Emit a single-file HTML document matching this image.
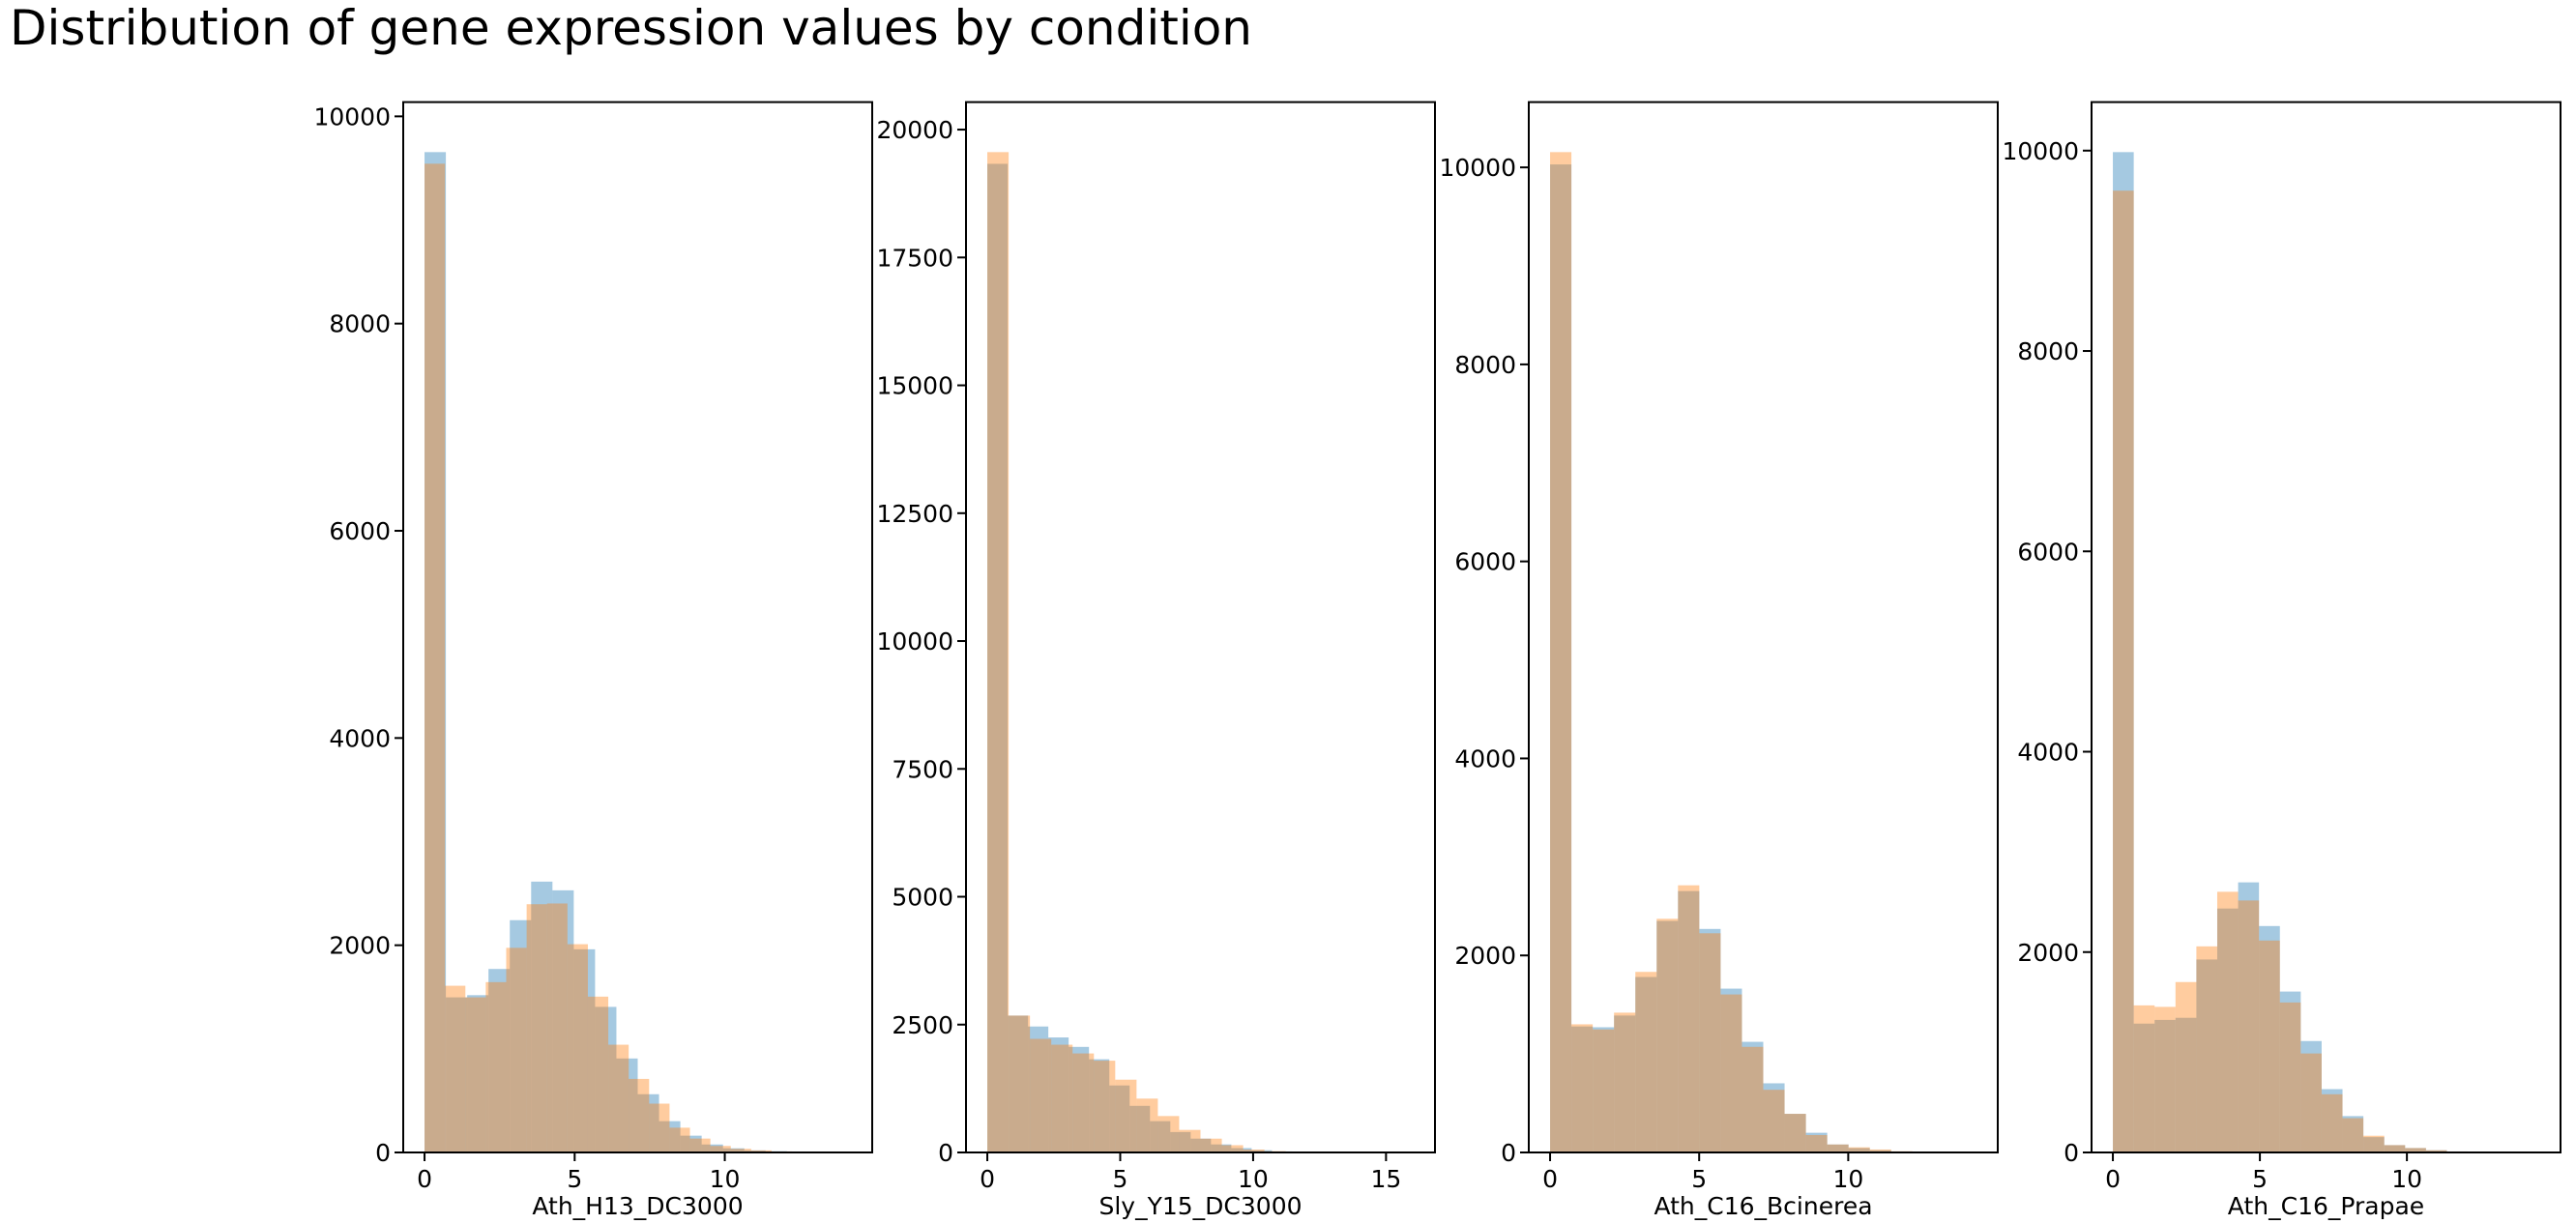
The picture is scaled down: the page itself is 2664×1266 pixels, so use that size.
<!DOCTYPE html>
<html><head><meta charset="utf-8"><style>
html,body{margin:0;padding:0;background:#fff;}
svg{display:block;font-family:"DejaVu Sans","Liberation Sans",sans-serif;}
</style></head><body>
<svg id="chart" width="2664" height="1266" viewBox="0 0 2664 1266" xmlns="http://www.w3.org/2000/svg">
<rect width="2664" height="1266" fill="#fff"/>
<text x="10" y="46" font-size="50" textLength="1285" lengthAdjust="spacingAndGlyphs">Distribution of gene expression values by condition</text>
</svg>
<script>
const conditions = ["Ath_H13_DC3000","Sly_Y15_DC3000","Ath_C16_Bcinerea","Ath_C16_Prapae"];
const blueCounts1 = [9655,1497,1518,1771,2242,2614,2530,1961,1405,907,562,302,162,77,40,20,12,5,2,1];
const orangeCounts1 = [9543,1609,1497,1644,1975,2396,2403,2010,1504,1040,710,471,239,134,63,35,20,10,4,2];
const blueCounts2 = [19331,2676,2463,2249,2064,1822,1310,911,612,399,270,157,85,43,20,8,4,2,1,1];
const orangeCounts2 = [19560,2676,2221,2107,1936,1794,1423,1053,712,441,270,142,57,25,10,5,2,1,1,1];
const blueCounts3 = [10030,1279,1271,1390,1781,2350,2653,2269,1663,1123,702,392,200,81,44,22,10,4,2,1];
const orangeCounts3 = [10155,1301,1249,1419,1833,2372,2712,2225,1604,1072,636,392,177,81,52,30,12,5,2,1];
const blueCounts4 = [9985,1286,1323,1344,1926,2435,2696,2260,1606,1112,632,363,153,73,44,22,10,5,2,1];
const orangeCounts4 = [9600,1468,1453,1701,2057,2602,2515,2115,1497,988,581,342,167,73,44,22,10,5,2,1];
const blueMax = [14.2,15.3,14.3,14.2];
const orangeMax = [13.6,16.04,14.3,14.2];
const xRangeMax = [14.2,16.04,14.3,14.5];
const yTicks1 = [0,2000,4000,6000,8000,10000];
const yTicks2 = [0,2500,5000,7500,10000,12500,15000,17500,20000];
const yTicks3 = [0,2000,4000,6000,8000,10000];
const yTicks4 = [0,2000,4000,6000,8000,10000];
const xTicks1 = [0,5,10];
const xTicks2 = [0,5,10,15];
const xTicks3 = [0,5,10];
const xTicks4 = [0,5,10];

const blues=[blueCounts1,blueCounts2,blueCounts3,blueCounts4];
const oranges=[orangeCounts1,orangeCounts2,orangeCounts3,orangeCounts4];
const yTicksAll=[yTicks1,yTicks2,yTicks3,yTicks4];
const xTicksAll=[xTicks1,xTicks2,xTicks3,xTicks4];
const lefts=[417,999,1581,2163];
const W=485, TOP=105.6, BOT=1192;
const NS="http://www.w3.org/2000/svg";
const svg=document.getElementById('chart');
function mk(tag,attrs,parent){const e=document.createElementNS(NS,tag);for(const k in attrs)e.setAttribute(k,attrs[k]);(parent||svg).appendChild(e);return e;}

for(let p=0;p<4;p++){
  const g=mk('g',{});
  
  
  const L=lefts[p], M=xRangeMax[p];
  const x0=-0.05*M, x1=1.05*M;
  const ymax=1.05*Math.max(...blues[p],...oranges[p]);
  const sx=v=>L+(v-x0)/(x1-x0)*W;
  const sy=v=>BOT-v/ymax*(BOT-TOP);
  const series=[[blues[p],blueMax[p],'#1f77b4','blue'],[oranges[p],orangeMax[p],'#ff7f0e','orange']];
  for(const [counts,mx,col,nm] of series){
    const bw=mx/counts.length;
    counts.forEach((c,i)=>{
      const xa=sx(i*bw), xb=sx((i+1)*bw);
      const r=mk('rect',{x:xa,y:sy(c),width:xb-xa,height:BOT-sy(c),fill:col,'fill-opacity':0.4},g);
      
      
    });
  }
  const fr=mk('rect',{x:L,y:TOP,width:W,height:BOT-TOP,fill:'none',stroke:'#000','stroke-width':2},g);
  
  
  yTicksAll[p].forEach(t=>{
    const y=sy(t);
    mk('line',{x1:L-9,x2:L,y1:y,y2:y,stroke:'#000','stroke-width':2},g);
    const tx=mk('text',{x:L-13,y:y+9,'font-size':25,'text-anchor':'end'},g);
    tx.textContent=t;
    
    
  });
  xTicksAll[p].forEach(t=>{
    const x=sx(t);
    mk('line',{x1:x,x2:x,y1:BOT,y2:BOT+9,stroke:'#000','stroke-width':2},g);
    const tx=mk('text',{x:x,y:1228,'font-size':25,'text-anchor':'middle'},g);
    tx.textContent=t;
    
    
  });
  const xl=mk('text',{x:L+W/2,y:1256,'font-size':25,'text-anchor':'middle'},g);
  xl.textContent=conditions[p];
  
  
}
</script>
</body></html>
